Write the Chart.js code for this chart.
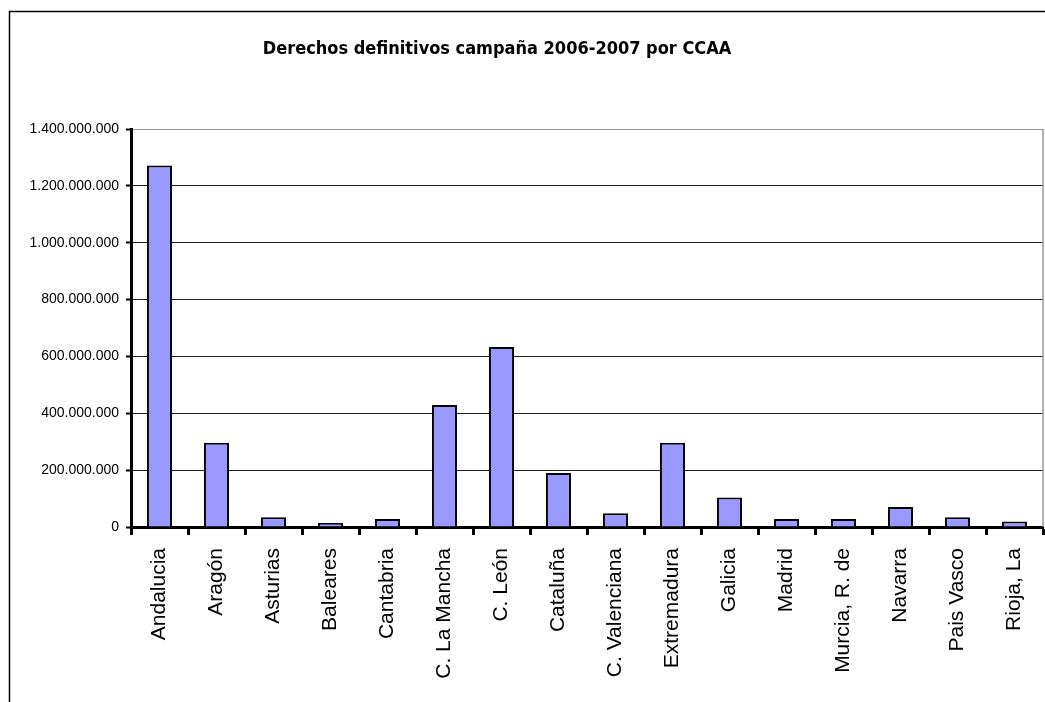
<!DOCTYPE html>
<html>
<head>
<meta charset="utf-8">
<title>Derechos definitivos campaña 2006-2007 por CCAA</title>
<script src="https://cdn.jsdelivr.net/npm/chart.js@4/dist/chart.umd.min.js"></script>
<style>
  html, body { margin: 0; padding: 0; background: #fff; }
  #wrap { position: relative; width: 1045px; height: 702px; }
</style>
</head>
<body>
<div id="wrap"><canvas id="chart"></canvas></div>
<script>
// Data
const chartTitle = 'Derechos definitivos campaña 2006-2007 por CCAA';
const regions = ['Andalucia', 'Aragón', 'Asturias', 'Baleares', 'Cantabria', 'C. La Mancha', 'C. León',
  'Cataluña', 'C. Valenciana', 'Extremadura', 'Galicia', 'Madrid', 'Murcia, R. de', 'Navarra',
  'Pais Vasco', 'Rioja, La'];
const derechos = [1272000000, 296000000, 34000000, 14000000, 28000000, 429000000, 633000000,
  190000000, 48000000, 296000000, 104000000, 28000000, 28000000, 70000000, 34000000, 19000000];
const yTicks = [0, 200000000, 400000000, 600000000, 800000000, 1000000000, 1200000000, 1400000000];

// thousands with dots, e.g. 1.400.000.000
function fmt(v) {
  return String(v).replace(/\B(?=(\d{3})+(?!\d))/g, '.');
}

// outer frame, plot border and the title
const decorations = {
  id: 'decorations',
  afterDraw(chart) {
    const ctx = chart.ctx;
    const a = chart.chartArea;
    ctx.save();
    // frame of the sheet (left and top edges only are visible)
    ctx.strokeStyle = '#000';
    ctx.lineWidth = 1.5;
    ctx.beginPath();
    ctx.moveTo(9.5, 702);
    ctx.lineTo(9.5, 11.5);
    ctx.lineTo(1045, 11.5);
    ctx.stroke();
    // plot area right border
    ctx.strokeStyle = '#999';
    ctx.lineWidth = 1.5;
    ctx.beginPath();
    ctx.moveTo(a.right, a.top);
    ctx.lineTo(a.right, a.bottom);
    ctx.stroke();
    // title
    ctx.fillStyle = '#000';
    ctx.font = 'bold 18px "DejaVu Sans Condensed", "DejaVu Sans", sans-serif';
    ctx.textAlign = 'center';
    ctx.textBaseline = 'middle';
    ctx.fillText(chartTitle, 497, 49);
    ctx.restore();
  }
};

const ctx = document.getElementById('chart').getContext('2d');
new Chart(ctx, {
  type: 'bar',
  data: {
    labels: regions,
    datasets: [{
      label: 'Derechos definitivos',
      data: derechos,
      backgroundColor: '#9999FF',
      borderColor: '#000',
      borderWidth: 2,
      barPercentage: 0.44,
      categoryPercentage: 1
    }]
  },
  options: {
    responsive: true,
    maintainAspectRatio: false,
    animation: false,
    layout: { padding: { top: 129, right: 2, left: 0, bottom: 0 } },
    plugins: {
      legend: { display: false },
      title: { display: false },
      tooltip: { enabled: false }
    },
    scales: {
      x: {
        offset: true,
        afterFit: (scale) => {
          scale.height = 175;
          scale.paddingLeft = 0;
          scale.paddingRight = 0;
        },
        border: { display: true, color: '#000', width: 3 },
        grid: {
          offset: true,
          drawOnChartArea: false,
          drawTicks: true,
          tickLength: 8,
          tickColor: '#000',
          tickWidth: 3
        },
        ticks: {
          autoSkip: false,
          minRotation: 90,
          maxRotation: 90,
          padding: 13,
          color: '#000',
          font: { family: '"Liberation Sans", Arial, sans-serif', size: 21 }
        }
      },
      y: {
        min: 0,
        max: 1400000000,
        afterFit: (scale) => { scale.width = 131; },
        afterBuildTicks: (scale) => { scale.ticks = yTicks.map(v => ({ value: v })); },
        border: { display: true, color: '#000', width: 3 },
        grid: {
          color: (c) => (c.tick && c.tick.value === 1400000000 ? '#999' : '#222'),
          lineWidth: 1,
          drawTicks: true,
          tickLength: 5,
          tickColor: '#000',
          tickWidth: 2
        },
        ticks: {
          padding: 7,
          color: '#000',
          font: { family: '"Liberation Sans", Arial, sans-serif', size: 14 },
          callback: (v) => fmt(v)
        }
      }
    }
  },
  plugins: [decorations]
});
</script>
</body>
</html>
